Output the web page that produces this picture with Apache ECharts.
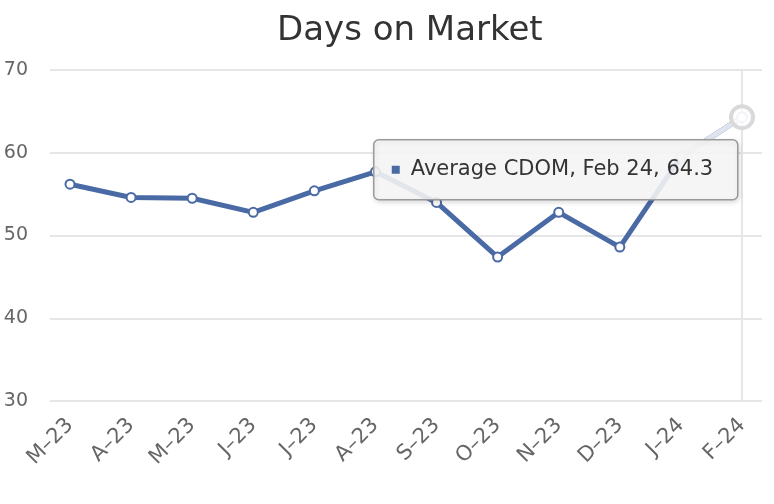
<!DOCTYPE html>
<html>
<head>
<meta charset="utf-8">
<script src="https://cdn.jsdelivr.net/npm/echarts@6/dist/echarts.min.js"></script>
<style>
html,body{margin:0;padding:0;background:#fff;}
#chart{width:774px;height:504px;}
</style>
</head>
<body>
<div id="chart"></div>
<script>
const titleText = 'Days on Market';
const seriesName = 'Average CDOM';
const categories = ['M–23','A–23','M–23','J–23','J–23','A–23','S–23','O–23','N–23','D–23','J–24','F–24'];
const tooltipDate = 'Feb 24';
const values = [56.2, 54.6, 54.5, 52.8, 55.4, 57.7, 54.0, 47.4, 52.8, 48.6, 59.5, 64.3];
const yMin = 30, yMax = 70, yStep = 10;

const lineColor = '#4a6aa5';
const font = 'DejaVu Sans';
const last = values.length - 1;
const fadedTail = values.map((v, i) => (i >= last - 1 ? v : null));

const chart = echarts.init(document.getElementById('chart'), null, {renderer: 'canvas'});
chart.setOption({
  animation: false,
  backgroundColor: '#fff',
  textStyle: {fontFamily: font},
  title: {
    text: titleText,
    left: 272, top: 9,
    textStyle: {fontFamily: font, fontSize: 34, fontWeight: 'normal', color: '#333'}
  },
  grid: [
    {left: 50, right: 12, top: 70, bottom: 103},
    {left: 70, right: 32, top: 70, bottom: 103}
  ],
  xAxis: [
    {gridIndex: 0, type: 'value', min: 0, max: 1, show: false},
    {
      gridIndex: 1, type: 'category', data: categories, boundaryGap: false,
      axisLine: {show: false}, axisTick: {show: false}, splitLine: {show: false},
      axisLabel: {rotate: 45, fontSize: 21, color: '#666', margin: 21, fontFamily: font}
    }
  ],
  yAxis: [
    {
      gridIndex: 0, type: 'value', min: yMin, max: yMax, interval: yStep,
      axisLine: {show: false}, axisTick: {show: false},
      splitLine: {lineStyle: {color: '#e6e6e6', width: 2}},
      axisLabel: {fontSize: 19, color: '#666', margin: 22, fontFamily: font}
    },
    {gridIndex: 1, type: 'value', min: yMin, max: yMax, interval: yStep, show: false, splitLine: {show: false}}
  ],
  series: [
    {
      name: seriesName, type: 'line', xAxisIndex: 1, yAxisIndex: 1,
      data: values, symbol: 'circle', symbolSize: 9,
      lineStyle: {color: lineColor, width: 5},
      itemStyle: {color: '#fff', borderColor: lineColor, borderWidth: 2},
      z: 3,
      markLine: {
        silent: true, symbol: ['none', 'none'], label: {show: false},
        lineStyle: {color: '#e6e6e6', width: 2, type: 'solid'},
        data: [{xAxis: last}],
        z: 1
      },
      markPoint: {
        silent: true, symbol: 'circle', symbolSize: 22, label: {show: false},
        itemStyle: {color: 'rgba(255,255,255,0.7)', borderColor: '#d9d9d9', borderWidth: 4},
        data: [{coord: [last, values[last]]}]
      }
    },
    {
      type: 'line', xAxisIndex: 1, yAxisIndex: 1, data: fadedTail,
      symbol: 'circle', symbolSize: 9, showSymbol: true,
      lineStyle: {color: '#dfe4ee', width: 5},
      itemStyle: {color: '#fff', borderColor: '#dfe4ee', borderWidth: 2},
      z: 4
    }
  ],
  graphic: [
    {
      type: 'group', left: 373, top: 139, zlevel: 5, z: 100,
      children: [
        {type: 'rect', zlevel: 5, z: 100, shape: {x: 0, y: 0, width: 364, height: 60, r: 5},
         style: {fill: 'rgba(248,248,248,0.88)', stroke: '#9a9a9a', lineWidth: 1.5,
                 shadowBlur: 5, shadowOffsetX: 1, shadowOffsetY: 2, shadowColor: 'rgba(0,0,0,0.15)'}},
        {type: 'rect', zlevel: 5, z: 101, shape: {x: 18, y: 26, width: 8, height: 8}, style: {fill: lineColor}},
        {type: 'text', zlevel: 5, z: 101, x: 37, y: 30,
         style: {text: seriesName + ', ' + tooltipDate + ', ' + values[last],
                 fontFamily: font, fontSize: 21, fill: '#333', verticalAlign: 'middle', align: 'left'}}
      ]
    }
  ]
});
</script>
</body>
</html>
